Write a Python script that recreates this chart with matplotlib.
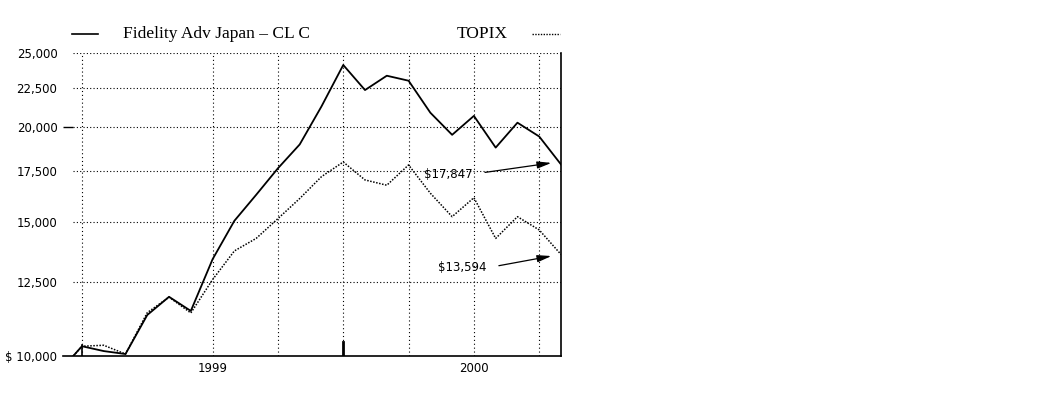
import matplotlib.pyplot as plt
from matplotlib.lines import Line2D

# growth of $10,000, month ends (first point = inception)
months = [-0.4, 0, 1, 2, 3, 4, 5, 6, 7, 8, 9, 10, 11, 12, 13, 14, 15, 16, 17, 18, 19, 20, 21, 22]
fidelity = [10000, 10300, 10150, 10060, 11320, 11960, 11460, 13400, 15050, 16280, 17640, 18960,
            21270, 24110, 22350, 23340, 22990, 20870, 19520, 20670, 18780, 20250, 19420, 17847]
topix = [10000, 10300, 10330, 10060, 11400, 11950, 11390, 12600, 13740, 14270, 15150, 16100,
         17200, 17980, 17030, 16760, 17820, 16360, 15240, 16140, 14270, 15240, 14640, 13594]

y_ticks = [10000, 12500, 15000, 17500, 20000, 22500, 25000]
y_labels = ['$ 10,000', '12,500', '15,000', '17,500', '20,000', '22,500', '25,000']
grid_months = [0, 6, 9, 12, 15, 18, 21]
x_ticks = [6, 18]
x_labels = ['1999', '2000']

fig = plt.figure(figsize=(10.63, 3.94), dpi=100)
ax = fig.add_axes([63 / 1063, 1 - 356 / 394, 498 / 1063, 303 / 394])

ax.set_yscale('log')
ax.set_ylim(10000, 25000)
ax.set_xlim(-0.87, 22)

# grid
ax.hlines(y_ticks[1:], -0.42, 22, colors='black', linestyles=(0, (1, 2)), linewidth=0.8)
for m in grid_months:
    ax.axvline(m, color='black', linestyle=(0, (1, 2.5)), linewidth=0.8)
ax.axvline(0, ymax=0.036, color='black', linewidth=1.2)
ax.axvline(12, ymax=0.046, color='black', linewidth=2)
ax.hlines(20000, -0.87, -0.42, colors='black', linewidth=1)

ax.plot(months, fidelity, color='black', linewidth=1.3)
ax.plot(months, topix, color='black', linewidth=1.1, linestyle=(0, (1, 1)))

ax.set_yticks(y_ticks)
ax.set_yticklabels(y_labels)
ax.minorticks_off()
ax.set_xticks(x_ticks)
ax.set_xticklabels(x_labels)
ax.tick_params(length=0, labelsize=8.5, pad=4)
for lbl in ax.get_xticklabels() + ax.get_yticklabels():
    lbl.set_fontfamily('DejaVu Sans')

ax.spines['top'].set_visible(False)
ax.spines['left'].set_visible(False)
ax.spines['right'].set_linewidth(1.2)
ax.spines['bottom'].set_linewidth(1.2)

# end value callouts
arrow = dict(arrowstyle='-|>,head_length=1.0,head_width=0.25', color='black',
             linewidth=0.9, relpos=(1, 0.5), shrinkA=7, shrinkB=0)
ax.annotate('$17,847', xy=(21.56, 17930), xytext=(17.94, 17330), ha='right', va='center',
            fontsize=8.5, family='DejaVu Sans', arrowprops=arrow)
ax.annotate('$13,594', xy=(21.56, 13530), xytext=(18.58, 13050), ha='right', va='center',
            fontsize=8.5, family='DejaVu Sans', arrowprops=arrow)

# legend across the top
fig.add_artist(Line2D([72 / 1063, 98 / 1063], [1 - 34 / 394] * 2, color='black', linewidth=1.2))
fig.text(123 / 1063, 1 - 34 / 394, 'Fidelity Adv Japan \u2013 CL C', family='Liberation Serif',
         fontsize=12.5, va='center', ha='left')
fig.text(457 / 1063, 1 - 34 / 394, 'TOPIX', family='Liberation Serif',
         fontsize=12.5, va='center', ha='left')
fig.add_artist(Line2D([532 / 1063, 560 / 1063], [1 - 34 / 394] * 2, color='black',
                      linewidth=1.0, linestyle=(0, (1, 1))))

fig.savefig('out.png', dpi=100)
